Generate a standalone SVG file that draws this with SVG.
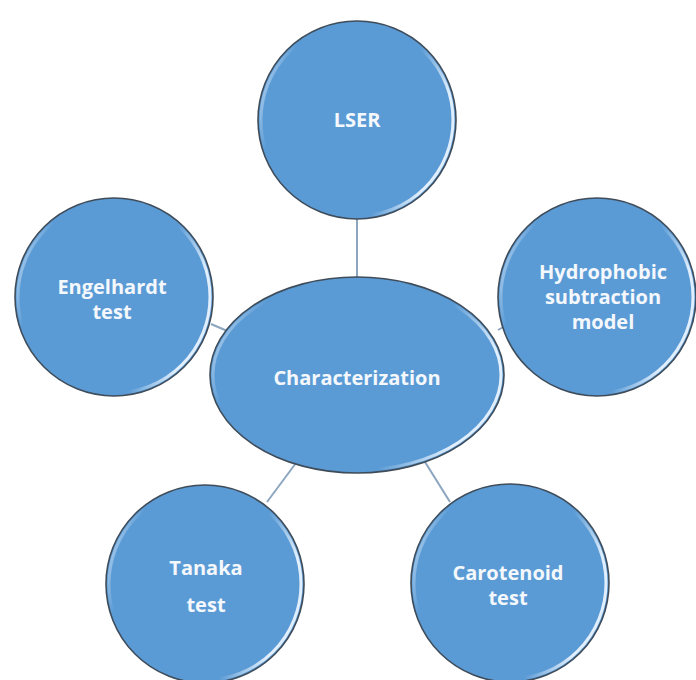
<svg xmlns="http://www.w3.org/2000/svg" width="696" height="680" viewBox="0 0 696 680">
<defs>
<linearGradient id="rim" x1="0" y1="0" x2="1" y2="0.3">
<stop offset="0" stop-color="#e8f3ff" stop-opacity="0.95"/>
<stop offset="0.2" stop-color="#e8f3ff" stop-opacity="0"/>
<stop offset="0.8" stop-color="#e8f3ff" stop-opacity="0"/>
<stop offset="1" stop-color="#e8f3ff" stop-opacity="0.95"/>
</linearGradient>
<style>
.node{fill:#5b9bd5;stroke:#3f4c5a;stroke-width:1.6}
.rim{fill:none;stroke:url(#rim);stroke-width:3}
.lbl{font-family:"Open Sans","Liberation Sans",sans-serif;font-weight:700;font-size:20px;fill:#f4f8fc;text-anchor:middle}
.conn{stroke:#8da6c0;stroke-width:2;fill:none}
</style>
</defs>
<rect width="696" height="680" fill="#ffffff"/>
<g id="connectors">
<line class="conn" x1="357" y1="217" x2="357" y2="278"/>
<line class="conn" x1="211" y1="324" x2="232" y2="333"/>
<line class="conn" x1="498" y1="330" x2="507" y2="325"/>
<line class="conn" x1="267" y1="502" x2="296" y2="463"/>
<line class="conn" x1="450" y1="502" x2="425" y2="462"/>
</g>
<g id="node-center">
<ellipse class="node" cx="357" cy="375" rx="147" ry="98"/>
<ellipse class="rim" cx="357" cy="375" rx="144" ry="95"/>
<text class="lbl" x="357" y="385">Characterization</text>
</g>
<g id="node-lser">
<circle class="node" cx="357" cy="120" r="99"/>
<circle class="rim" cx="357" cy="120" r="96"/>
<text class="lbl" x="357" y="127">LSER</text>
</g>
<g id="node-engelhardt">
<circle class="node" cx="114" cy="297" r="99"/>
<circle class="rim" cx="114" cy="297" r="96"/>
<text class="lbl" x="112" y="294">Engelhardt</text>
<text class="lbl" x="112" y="319">test</text>
</g>
<g id="node-hydrophobic">
<circle class="node" cx="597" cy="297" r="99"/>
<circle class="rim" cx="597" cy="297" r="96"/>
<text class="lbl" x="603" y="279">Hydrophobic</text>
<text class="lbl" x="603" y="304">subtraction</text>
<text class="lbl" x="603" y="329">model</text>
</g>
<g id="node-tanaka">
<circle class="node" cx="205" cy="584" r="99"/>
<circle class="rim" cx="205" cy="584" r="96"/>
<text class="lbl" x="206" y="575">Tanaka</text>
<text class="lbl" x="206" y="612">test</text>
</g>
<g id="node-carotenoid">
<circle class="node" cx="510" cy="583" r="99"/>
<circle class="rim" cx="510" cy="583" r="96"/>
<text class="lbl" x="508" y="580">Carotenoid</text>
<text class="lbl" x="508" y="605">test</text>
</g>
</svg>
